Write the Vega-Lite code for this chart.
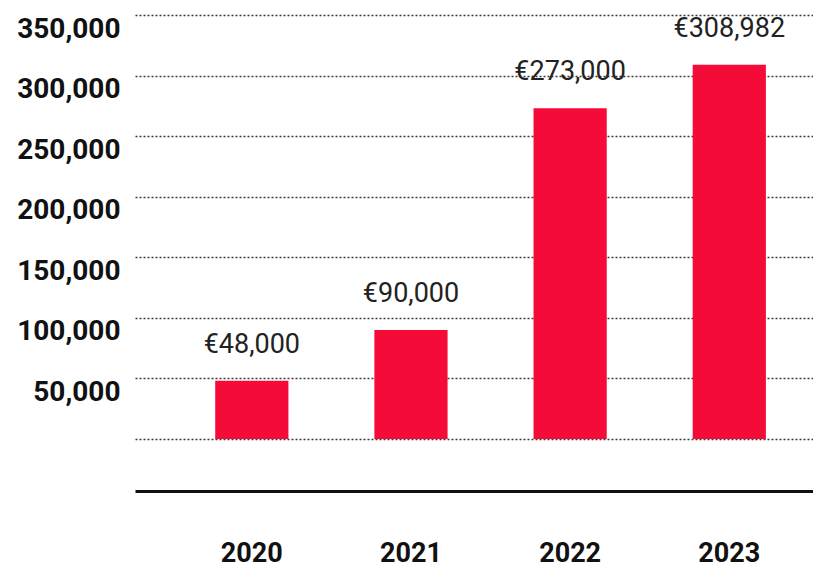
{
  "$schema": "https://vega.github.io/schema/vega-lite/v6.json",
  "width": 678,
  "height": 424,
  "autosize": {"type": "none"},
  "padding": {"left": 135, "top": 15, "right": 0, "bottom": 129},
  "background": "white",
  "config": {
    "view": {"stroke": null},
    "font": "Roboto",
    "locale": {
      "number": {"decimal": ".", "thousands": ",", "grouping": [3], "currency": ["€", ""]}
    }
  },
  "data": {
    "values": [
      {"year": "2020", "amount": 48000},
      {"year": "2021", "amount": 90000},
      {"year": "2022", "amount": 273000},
      {"year": "2023", "amount": 308982}
    ]
  },
  "encoding": {
    "x": {
      "field": "year",
      "type": "nominal",
      "sort": null,
      "scale": {"paddingInner": 0.54, "paddingOuter": 0.4, "align": 0.63},
      "axis": {
        "title": null,
        "labelAngle": 0,
        "ticks": false,
        "domainColor": "#111111",
        "domainWidth": 3,
        "offset": 52,
        "labelPadding": 49,
        "labelBaseline": "top",
        "labelFont": "Roboto",
        "labelFontWeight": "bold",
        "labelFontSize": 27,
        "labelColor": "#111111"
      }
    },
    "y": {
      "field": "amount",
      "type": "quantitative",
      "scale": {"domain": [0, 350000], "nice": false},
      "axis": {
        "title": null,
        "values": [0, 50000, 100000, 150000, 200000, 250000, 300000, 350000],
        "labelExpr": "datum.value == 0 ? '' : format(datum.value, ',')",
        "domain": false,
        "ticks": false,
        "grid": true,
        "gridColor": "#3a3a3a",
        "gridWidth": 1.5,
        "gridDash": [2, 2],
        "labelPadding": 15,
        "labelAlign": "right",
        "labelBaseline": "top",
        "labelFont": "Roboto",
        "labelFontWeight": "bold",
        "labelFontSize": 28,
        "labelColor": "#111111"
      }
    }
  },
  "layer": [
    {
      "mark": {"type": "bar", "color": "#F50B38"}
    },
    {
      "mark": {
        "type": "text",
        "baseline": "alphabetic",
        "dy": -28,
        "font": "Roboto",
        "fontSize": 27,
        "color": "#222222"
      },
      "encoding": {
        "text": {"field": "amount", "type": "quantitative", "format": "$,"}
      }
    }
  ]
}
